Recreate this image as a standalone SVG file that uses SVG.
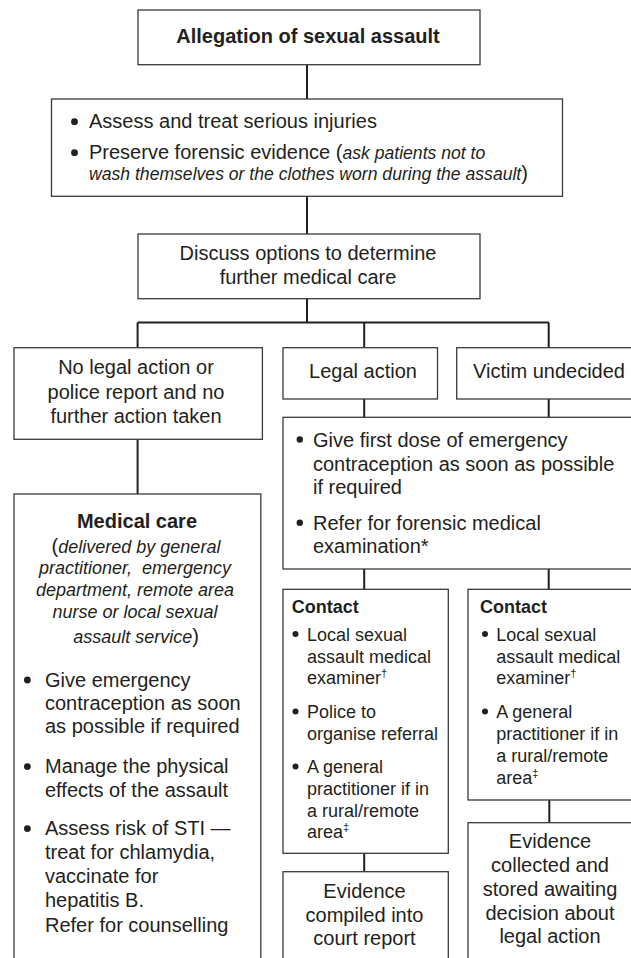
<svg xmlns="http://www.w3.org/2000/svg" width="631" height="958" viewBox="0 0 631 958">
<style>
.box{fill:#fff;stroke:#3a3a3a;stroke-width:1.3}
.conn{stroke:#231f20;stroke-width:2;fill:none}
text{font-family:"Liberation Sans",Arial,Helvetica,sans-serif;fill:#231f20}
.t20{font-size:20px}
.t18{font-size:18px}
.b{font-weight:bold}
.c{text-anchor:middle}
.i{font-style:italic}
.sup{font-size:11px}
.dot{fill:#231f20}
</style>
<rect width="631" height="958" fill="#fff"/>
<g id="connectors">
<path class="conn" d="M307 64.7V99M307 196.3V234M307 298.7V322.5M137.6 322.5H549M137.6 322.5V347.7M364.2 322.5V347.7M548.7 322.5V347.7M364.2 399V417.3M548.7 399V417.3M137.6 439.3V494M364.2 569V589.3M548.7 569V589.3M364.2 853.3V871.7M549.3 800V822.7"/>
</g>
<g id="allegation">
<rect class="box" x="138" y="10" width="342" height="54.7"/>
<text class="t20 b c" x="308" y="43">Allegation of sexual assault</text>
</g>
<g id="assess">
<rect class="box" x="51.5" y="99" width="511" height="97.3"/>
<circle class="dot" cx="74.5" cy="121.7" r="3.4"/>
<text class="t20" x="89" y="128">Assess and treat serious injuries</text>
<circle class="dot" cx="74.5" cy="152.7" r="3.4"/>
<text class="t20" x="89" y="159.3">Preserve forensic evidence (<tspan class="i" style="font-size:17.6px">ask patients not to</tspan></text>
<text class="t20" x="89" y="180"><tspan class="i" style="font-size:17.6px">wash themselves or the clothes worn during the assault</tspan>)</text>
</g>
<g id="discuss">
<rect class="box" x="138" y="234" width="342" height="64.7"/>
<text class="t20 c" x="308" y="259.7">Discuss options to determine</text>
<text class="t20 c" x="308" y="284">further medical care</text>
</g>
<g id="no-legal">
<rect class="box" x="14" y="347.7" width="248.4" height="91.6"/>
<text class="t20 c" x="136" y="374">No legal action or</text>
<text class="t20 c" x="136" y="398.7">police report and no</text>
<text class="t20 c" x="136" y="422.7">further action taken</text>
</g>
<g id="legal">
<rect class="box" x="283" y="347.7" width="154.5" height="51.3"/>
<text class="t20 c" x="363" y="378.3">Legal action</text>
</g>
<g id="undecided">
<rect class="box" x="456.7" y="347.7" width="190" height="51.3"/>
<text class="t20 c" x="549" y="378.3">Victim undecided</text>
</g>
<g id="first-dose">
<rect class="box" x="283" y="417.3" width="360" height="151.7"/>
<circle class="dot" cx="299.8" cy="439.5" r="3.2"/>
<text class="t20" x="313" y="446.7">Give first dose of emergency</text>
<text class="t20" x="313" y="470.7">contraception as soon as possible</text>
<text class="t20" x="313" y="494">if required</text>
<circle class="dot" cx="299.8" cy="522.8" r="3.2"/>
<text class="t20" x="313" y="530">Refer for forensic medical</text>
<text class="t20" x="313" y="553.3">examination*</text>
</g>
<g id="medical-care">
<rect class="box" x="14" y="494" width="246.8" height="480"/>
<text class="t20 b c" x="137" y="528">Medical care</text>
<text class="t20 c" x="136" y="553.3">(<tspan class="i" style="font-size:18px">delivered by general</tspan></text>
<text class="t18 c i" x="135" y="574.3" xml:space="preserve">practitioner,  emergency</text>
<text class="t18 c i" x="135" y="596">department, remote area</text>
<text class="t18 c i" x="135" y="618.3">nurse or local sexual</text>
<text class="t20 c" x="136" y="643.3"><tspan class="i" style="font-size:18px">assault service</tspan>)</text>
<circle class="dot" cx="27.4" cy="680" r="3.4"/>
<text class="t20" x="45" y="686.7">Give emergency</text>
<text class="t20" x="45" y="710">contraception as soon</text>
<text class="t20" x="45" y="733.3">as possible if required</text>
<circle class="dot" cx="27.4" cy="766.6" r="3.4"/>
<text class="t20" x="45" y="773.3">Manage the physical</text>
<text class="t20" x="45" y="796.7">effects of the assault</text>
<circle class="dot" cx="27.4" cy="828.6" r="3.4"/>
<text class="t20" x="45" y="835.3">Assess risk of STI —</text>
<text class="t20" x="45" y="859">treat for chlamydia,</text>
<text class="t20" x="45" y="883.3">vaccinate for</text>
<text class="t20" x="45" y="906.7">hepatitis B.</text>
<text class="t20" x="45" y="931.7">Refer for counselling</text>
</g>
<g id="contact-legal">
<rect class="box" x="283" y="589.3" width="165.3" height="264"/>
<text class="t18 b" x="291.8" y="612.7">Contact</text>
<circle class="dot" cx="295.5" cy="634" r="3"/>
<text class="t18" x="307" y="641">Local sexual</text>
<text class="t18" x="307" y="663">assault medical</text>
<text class="t18" x="307" y="684">examiner<tspan class="sup" dy="-7">†</tspan></text>
<circle class="dot" cx="295.5" cy="711.5" r="3"/>
<text class="t18" x="307" y="718.3">Police to</text>
<text class="t18" x="307" y="740">organise referral</text>
<circle class="dot" cx="295.5" cy="766.5" r="3"/>
<text class="t18" x="307" y="773.3">A general</text>
<text class="t18" x="307" y="795">practitioner if in</text>
<text class="t18" x="307" y="816.7">a rural/remote</text>
<text class="t18" x="307" y="838.3">area<tspan class="sup" dy="-7">‡</tspan></text>
</g>
<g id="contact-undecided">
<rect class="box" x="468" y="589.3" width="165" height="210.7"/>
<text class="t18 b" x="480" y="612.7">Contact</text>
<circle class="dot" cx="485" cy="634" r="3"/>
<text class="t18" x="496.2" y="641">Local sexual</text>
<text class="t18" x="496.2" y="663">assault medical</text>
<text class="t18" x="496.2" y="684">examiner<tspan class="sup" dy="-7">†</tspan></text>
<circle class="dot" cx="485" cy="711.5" r="3"/>
<text class="t18" x="496.2" y="718.3">A general</text>
<text class="t18" x="496.2" y="740">practitioner if in</text>
<text class="t18" x="496.2" y="762">a rural/remote</text>
<text class="t18" x="496.2" y="784">area<tspan class="sup" dy="-7">‡</tspan></text>
</g>
<g id="evidence-compiled">
<rect class="box" x="283" y="871.7" width="165.3" height="100"/>
<text class="t20 c" x="364.5" y="898.3">Evidence</text>
<text class="t20 c" x="364.5" y="921.7">compiled into</text>
<text class="t20 c" x="364.5" y="945">court report</text>
</g>
<g id="evidence-collected">
<rect class="box" x="468" y="822.7" width="165" height="150"/>
<text class="t20 c" x="550" y="848.3">Evidence</text>
<text class="t20 c" x="550" y="871.7">collected and</text>
<text class="t20 c" x="550" y="896">stored awaiting</text>
<text class="t20 c" x="550" y="920">decision about</text>
<text class="t20 c" x="550" y="943.3">legal action</text>
</g>
</svg>
